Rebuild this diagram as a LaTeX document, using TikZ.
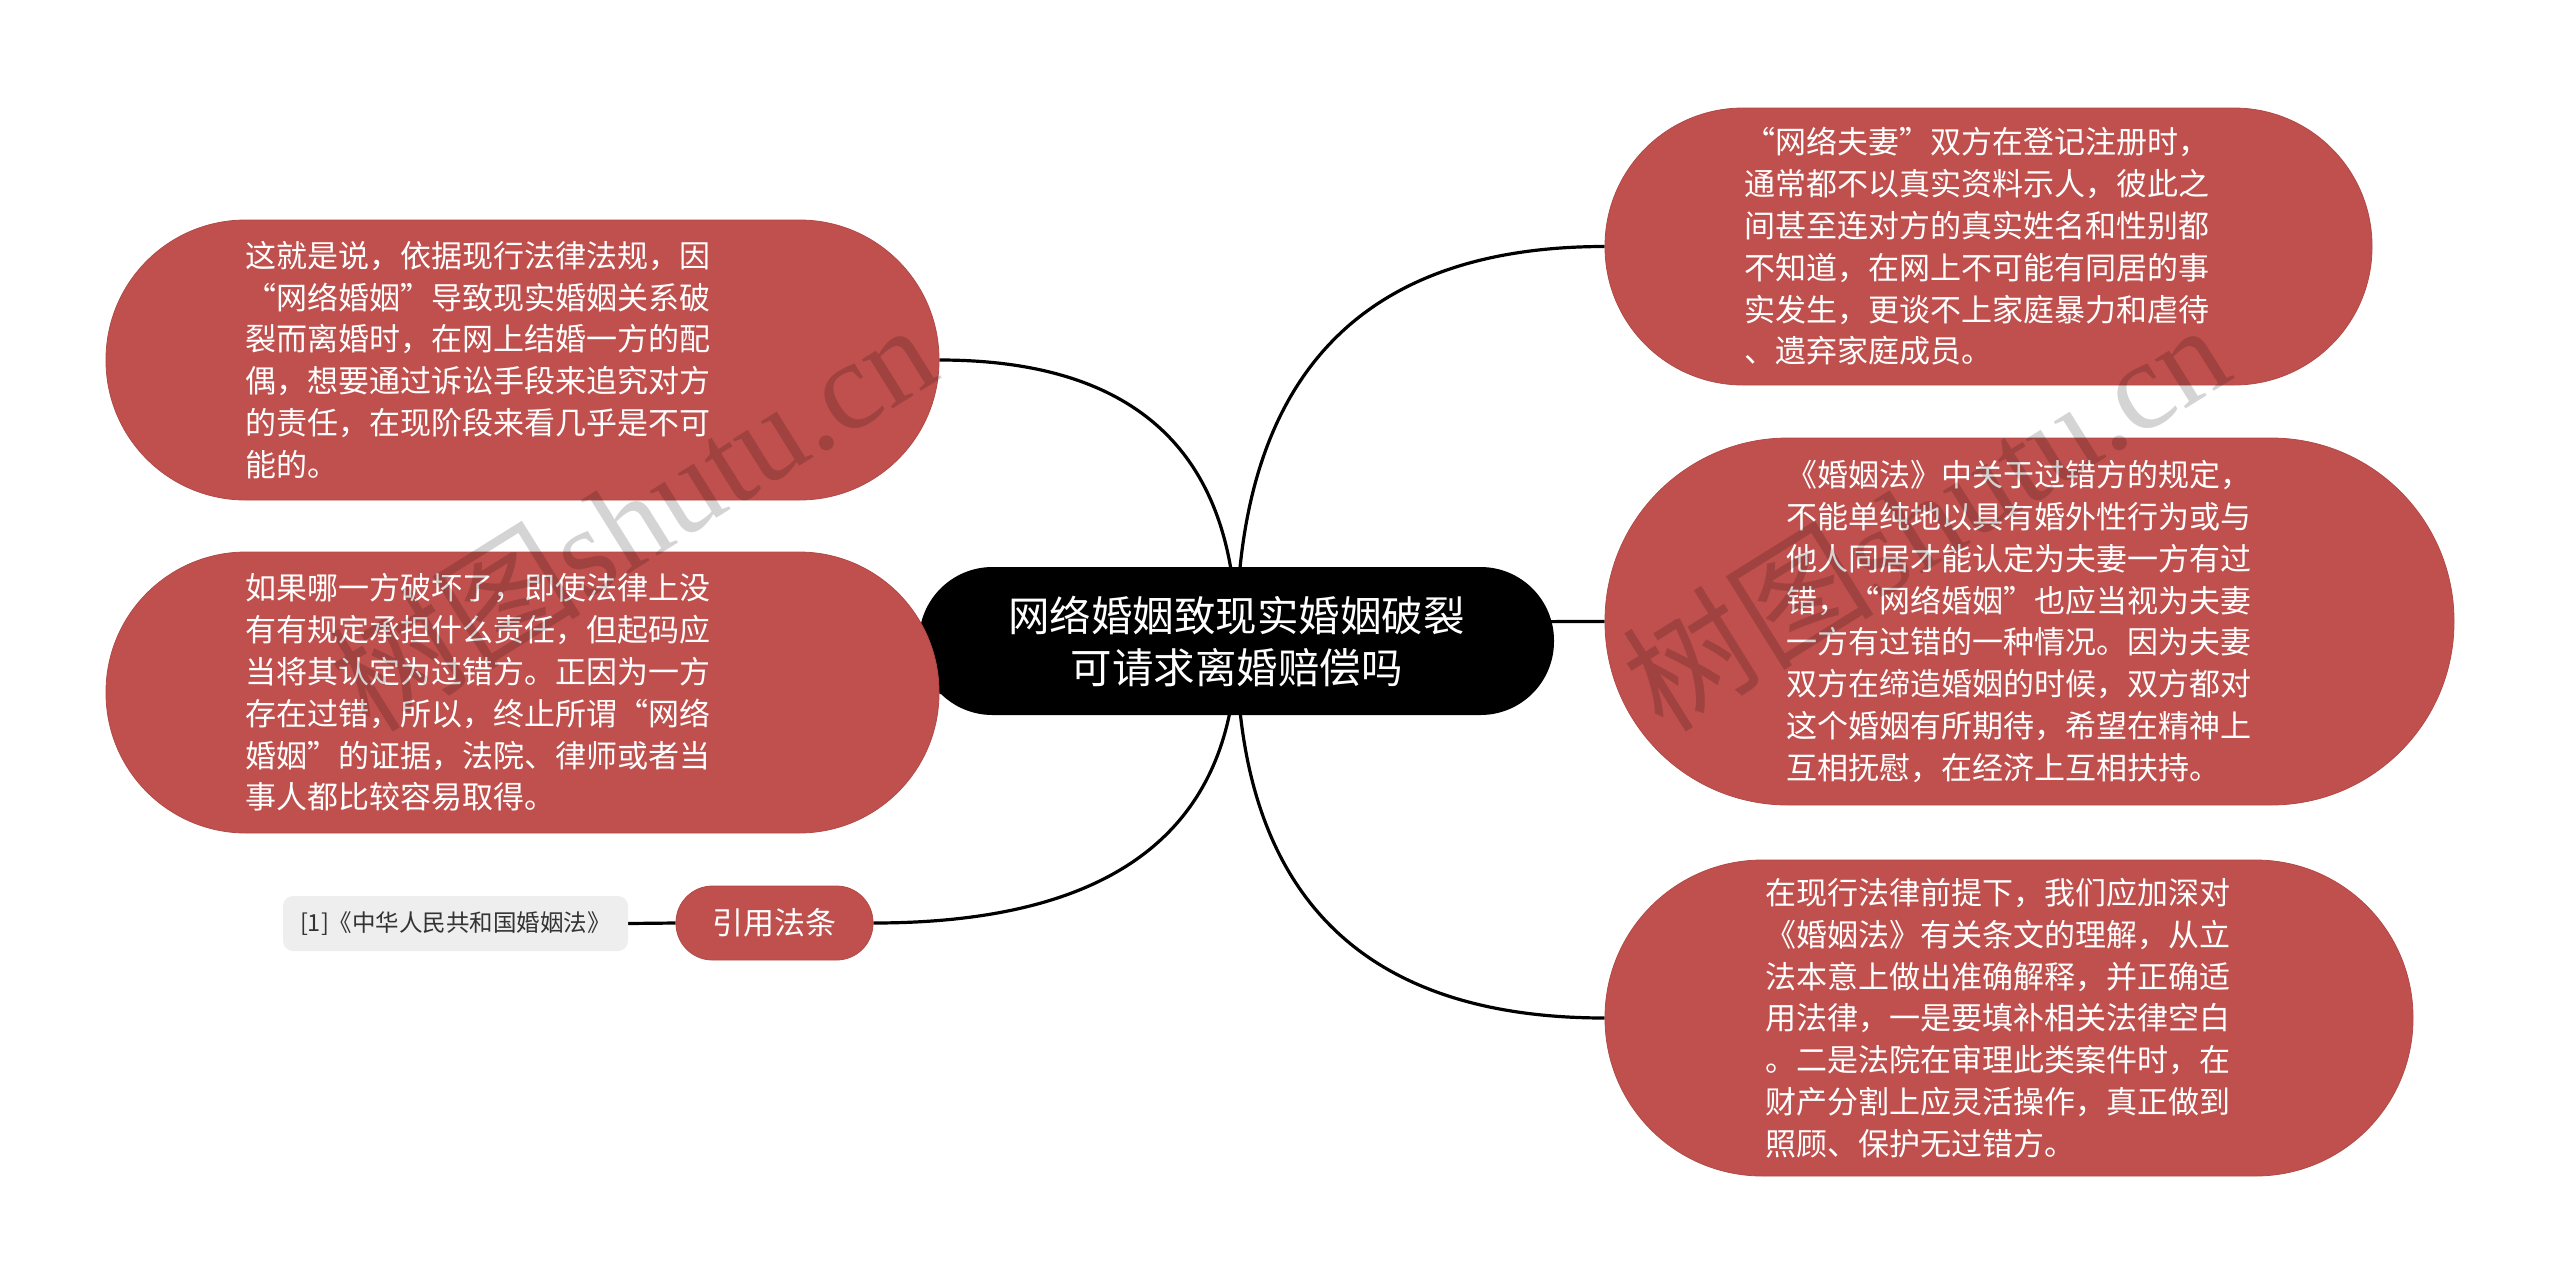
\documentclass[tikz,border=0pt]{standalone}
\usepackage{fontspec}
\setmainfont{Noto Sans CJK SC}
\newfontfamily\wmlatin{Liberation Serif}
\usetikzlibrary{calc,backgrounds}
\definecolor{nodered}{HTML}{C0504D}
\definecolor{leafgray}{HTML}{EEEEEE}
\definecolor{leaftext}{HTML}{333333}
\newcommand\fq[1]{{\addfontfeature{CharacterWidth=Full}#1}}
\tikzset{
  redbox/.style={fill=nodered, draw=nodered!92!black, line width=0.8pt, inner sep=0pt},
  bodytext/.style={text=white, align=left, inner sep=0pt, anchor=west, font=\fontsize{31}{41.8}\selectfont},
  link/.style={draw=black, line width=3.2pt},
  wm/.style={text=black, opacity=0.17, rotate=32, inner sep=0pt, font=\fontsize{126}{126}\selectfont}
}
\begin{document}
\begin{tikzpicture}[x=1pt,y=-1pt]
\useasboundingbox (0,0) rectangle (2560,1283);

% central
\node[fill=black, rounded corners=73.5pt, minimum width=635pt, minimum height=148pt, inner sep=0pt,
      text=white, align=center, font=\fontsize{41.5}{52}\selectfont] (c) at (1236.5,641)
  {网络婚姻致现实婚姻破裂\\可请求离婚赔偿吗};

% shapes
\node[redbox, rounded corners=139.5pt, minimum width=833pt, minimum height=280pt] (l1) at (522.5,360) {};
\node[redbox, rounded corners=140pt, minimum width=833pt, minimum height=281pt] (l2) at (522.5,692.5) {};
\node[redbox, rounded corners=138pt, minimum width=767pt, minimum height=277pt] (r1) at (1988.5,246.5) {};
\node[redbox, rounded corners=183pt, minimum width=849pt, minimum height=367pt] (r2) at (2029.5,621.5) {};
\node[redbox, rounded corners=157.5pt, minimum width=808pt, minimum height=316pt] (r3) at (2009,1018) {};
\node[redbox, rounded corners=36.5pt, minimum width=197pt, minimum height=74pt, text=white,
      font=\fontsize{31}{36}\selectfont] (cite) at (774.5,923) {引用法条};
\node[fill=leafgray, rounded corners=10pt, minimum width=345pt, minimum height=55pt, inner sep=0pt,
      text=leaftext, font=\fontsize{23.5}{28}\selectfont] (leaf) at (455.5,923.5) {[1]《中华人民共和国婚姻法》};

% texts
\node[bodytext] (l1t) at (245,360) {这就是说，依据现行法律法规，因\\
\fq{“}网络婚姻\fq{”}导致现实婚姻关系破\\
裂而离婚时，在网上结婚一方的配\\
偶，想要通过诉讼手段来追究对方\\
的责任，在现阶段来看几乎是不可\\
能的。};
\node[bodytext] (l2t) at (245,692.5) {如果哪一方破坏了，即使法律上没\\
有有规定承担什么责任，但起码应\\
当将其认定为过错方。正因为一方\\
存在过错，所以，终止所谓\fq{“}网络\\
婚姻\fq{”}的证据，法院、律师或者当\\
事人都比较容易取得。};
\node[bodytext] (r1t) at (1744,246.5) {\fq{“}网络夫妻\fq{”}双方在登记注册时，\\
通常都不以真实资料示人，彼此之\\
间甚至连对方的真实姓名和性别都\\
不知道，在网上不可能有同居的事\\
实发生，更谈不上家庭暴力和虐待\\
、遗弃家庭成员。};
\node[bodytext] (r2t) at (1786,621.5) {《婚姻法》中关于过错方的规定，\\
不能单纯地以具有婚外性行为或与\\
他人同居才能认定为夫妻一方有过\\
错，\fq{“}网络婚姻\fq{”}也应当视为夫妻\\
一方有过错的一种情况。因为夫妻\\
双方在缔造婚姻的时候，双方都对\\
这个婚姻有所期待，希望在精神上\\
互相抚慰，在经济上互相扶持。};
\node[bodytext] (r3t) at (1765,1018) {在现行法律前提下，我们应加深对\\
《婚姻法》有关条文的理解，从立\\
法本意上做出准确解释，并正确适\\
用法律，一是要填补相关法律空白\\
。二是法院在审理此类案件时，在\\
财产分割上应灵活操作，真正做到\\
照顾、保护无过错方。};

% connectors
\begin{scope}[on background layer]
\foreach \n/\a in {l1/east, l2/east, r1/west, r2/west, r3/west, cite/east} {
  \draw[link] (c.center) .. controls ($(c.center)!0.6667!(c.center|-\n.\a)$)
                          and ($(\n.\a)!0.6667!(c.center|-\n.\a)$) .. (\n.\a);
}
\draw[link] (cite.west) -- (leaf.east);
\end{scope}

% watermark
\node[wm] (wm1) at (632,515) {树图{\wmlatin shutu.cn}};
\node[wm] (wm2) at (1925,515) {树图{\wmlatin shutu.cn}};
\end{tikzpicture}
\end{document}
